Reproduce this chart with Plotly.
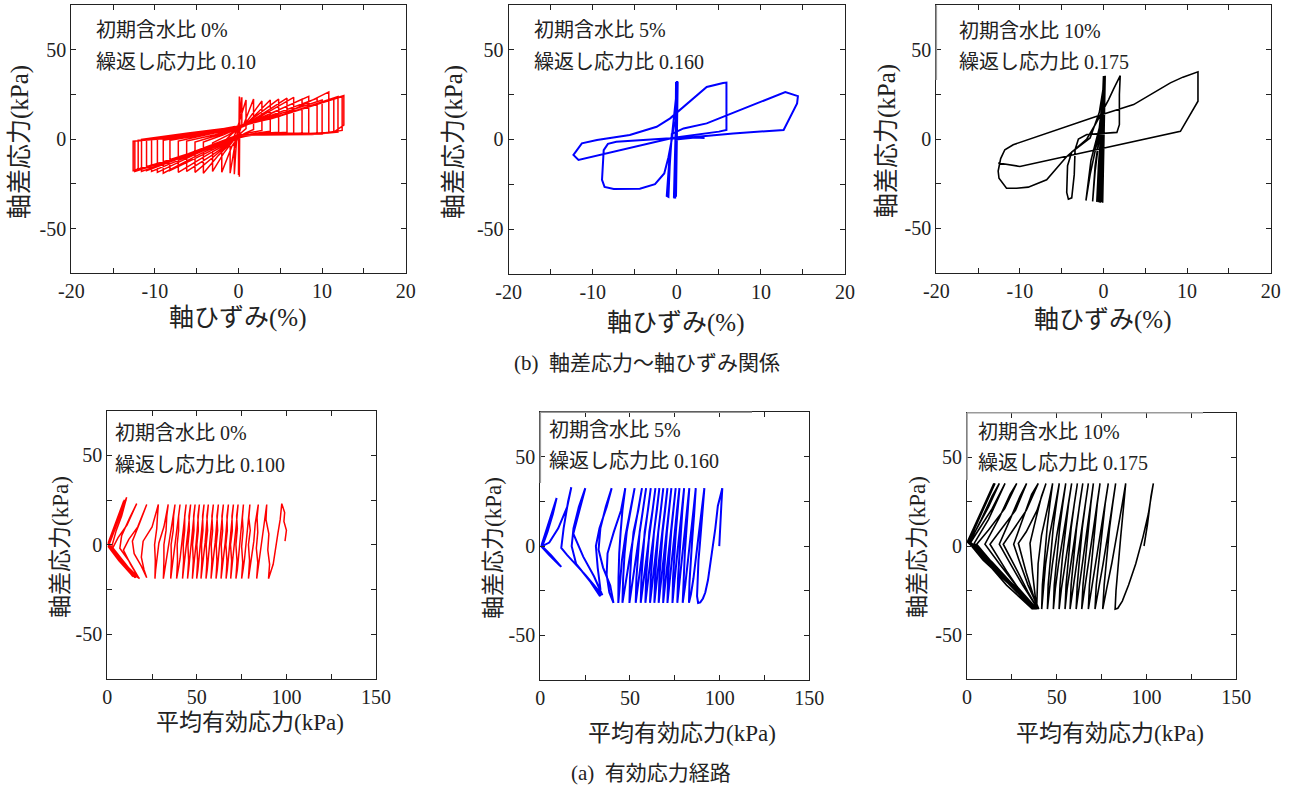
import plotly.graph_objects as go

W, H = 1294, 785

# ------------------------------------------------------------------
# (b) deviator stress vs axial strain : (axial strain %, deviator stress kPa)
# ------------------------------------------------------------------
ss_w0 = [
    (0.0, 0.0), (0.05, 23.0), (0.0, -20.0), (0.1, 24.0), (0.05, -19.5), (0.15, 23.5), (0.1, -21.0), (0.2, 22.5), (0.05, -19.0), (0.2, 23.0),
    (0.15, 10.0), (-0.2, 2.0), (-0.5, -19.5), (-0.5, -3.0), (0.0, 6.0), (0.4, 23.5),
    (0.4, 8.0), (0.1, 4.0), (-0.5, -5.0), (-1.0, -19.0), (-1.0, -3.0), (-0.3, 4.0), (0.9, 22.0),
    (0.9, 6.0), (0.3, 3.5), (-0.8, -4.0), (-2.0, -18.5), (-2.0, -2.5), (-0.8, 3.0), (0.6, 8.0), (1.8, 22.5),
    (1.8, 5.5), (0.8, 3.5), (-0.5, 0.0), (-1.8, -8.0), (-3.1, -18.0), (-3.1, -2.0), (-1.2, 2.5), (0.7, 8.0), (2.8, 21.5),
    (2.8, 5.0), (1.2, 3.5), (-0.5, 0.0), (-2.4, -9.0), (-4.2, -19.0), (-4.2, -1.5), (-1.8, 2.5), (0.8, 8.0), (3.8, 22.0),
    (3.8, 4.5), (1.6, 3.0), (-0.5, 0.0), (-2.8, -9.0), (-5.2, -18.5), (-5.2, -1.5), (-2.3, 2.5), (0.5, 7.5), (4.8, 22.5),
    (4.8, 4.0), (2.0, 3.0), (-0.3, 0.5), (-3.2, -9.0), (-6.2, -18.0), (-6.2, -1.0), (-2.8, 2.5), (0.5, 7.0), (5.8, 23.0),
    (5.8, 4.0), (2.5, 3.0), (0.0, 1.0), (-3.5, -8.0), (-7.2, -18.5), (-7.2, -1.0), (-3.2, 3.0), (0.5, 7.0), (6.6, 23.5),
    (6.6, 3.5), (3.0, 3.0), (0.0, 1.5), (-4.0, -8.0), (-8.2, -17.5), (-8.2, -0.5), (-3.7, 3.0), (0.5, 7.0), (7.6, 22.5),
    (7.6, 3.5), (3.5, 3.0), (0.0, 2.0), (-4.5, -8.0), (-9.0, -19.0), (-9.0, -0.5), (-4.0, 3.5), (0.5, 7.5), (8.4, 24.0),
    (8.4, 3.5), (4.0, 2.5), (0.0, 2.2), (-5.0, -8.0), (-9.7, -18.5), (-9.7, 0.0), (-4.5, 3.5), (0.5, 7.5), (9.4, 23.0),
    (9.4, 3.0), (4.5, 2.5), (0.0, 2.4), (-5.2, -8.0), (-10.4, -18.0), (-10.4, 0.0), (-5.0, 3.5), (0.5, 7.5), (10.0, 22.0),
    (10.0, 3.0), (5.0, 2.5), (0.0, 2.4), (-5.5, -8.0), (-11.0, -17.5), (-11.0, 0.0), (-5.5, 3.5), (0.0, 7.0), (5.0, 13.0), (10.8, 26.5),
    (10.8, 3.5), (5.5, 2.7), (0.0, 2.4), (-5.6, -7.9), (-11.6, -18.0), (-11.6, 0.0), (-6.0, 3.5), (0.0, 7.0), (5.5, 14.0), (11.4, 23.0),
    (11.4, 4.0), (6.0, 2.7), (0.0, 2.5), (-6.0, -8.0), (-12.0, -17.0), (-12.0, -0.5), (-7.6, 0.9), (-3.6, 4.3), (-0.4, 7.1), (4.0, 11.7), (11.9, 24.0),
    (11.9, 4.0), (8.8, 2.7), (0.0, 2.4), (-5.6, -7.9), (-12.4, -18.0), (-12.4, -1.0), (-7.6, 0.9), (-3.6, 4.3), (-0.4, 7.1), (4.0, 11.7), (12.4, 24.0),
    (12.4, 5.0), (8.8, 2.7), (0.0, 2.4), (-6.0, -8.5), (-12.6, -17.5), (-12.6, -1.0), (-7.6, 0.9), (-3.6, 4.3), (-0.4, 7.1), (4.0, 11.7), (12.6, 24.5),
    (12.6, 8.0), (11.4, 4.0), (8.8, 2.7), (3.0, 2.4),
]

ss_w5 = [
    (3.3, 0.7), (2.2, 1.0), (1.0, 0.5), (0.0, 0.0),
    (-0.1, 32.0), (-0.2, -32.5), (0.0, 32.5), (-0.3, -32.0), (0.05, 32.0), (-0.2, -33.0), (0.0, 31.5), (-0.35, -32.5),
    (0.1, 32.0), (-0.1, -32.0), (0.05, 32.5), (-0.3, -33.0), (0.1, 32.0),
    (-0.4, 10.0), (-0.9, -12.0), (-1.2, -31.5), (-1.0, -32.0), (-0.85, -15.0), (-0.6, 3.0), (0.8, 6.1), (3.55, 8.9),
    (9.5, 20.0), (12.9, 26.4), (14.4, 24.1), (14.3, 20.0), (12.7, 5.2), (6.7, 3.3), (0.8, 0.8), (-0.8, 0.5),
    (-11.7, -11.5), (-12.3, -8.7), (-11.3, -2.2), (-9.5, -0.4), (-5.6, 2.4), (-2.4, 7.0), (-0.8, 11.7), (3.55, 29.2),
    (5.5, 31.4), (5.9, 31.6), (5.9, 5.2), (5.0, 4.3), (-0.8, 0.6), (-7.2, -1.3), (-8.2, -2.5), (-8.7, -6.0),
    (-8.9, -22.6), (-8.6, -26.5), (-7.5, -27.6), (-4.4, -27.5), (-2.6, -25.0), (-1.5, -19.0), (-1.0, -10.0),
    (-0.6, 0.0), (-0.3, 10.0),
]

ss_w10 = [
    (0.0, 0.0),
    (0.1, 35.3), (-0.3, -35.5), (0.2, 35.3), (-0.2, -35.5), (0.0, 35.3), (-0.4, -35.3), (0.15, 35.3), (-0.1, -35.8),
    (0.2, 35.3), (-0.5, -35.5), (0.1, 35.3), (-0.3, -35.3), (0.2, 35.3), (-0.6, -35.5), (0.0, 35.3), (-0.2, -35.5),
    (0.15, 35.3), (-0.5, -35.3), (0.1, 35.3), (-0.4, -35.8), (0.2, 35.5),
    (-0.2, 10.0), (-0.6, -15.0), (-0.8, -35.3), (-0.6, -20.0), (-0.2, 5.0), (0.1, 35.3),
    (-0.3, 8.0), (-1.0, -15.0), (-1.3, -35.0), (-1.0, -18.0), (-0.4, 5.0), (0.1, 35.3),
    (-0.4, 8.0), (-1.5, -12.0), (-2.1, -34.5), (-1.6, -20.0), (-0.6, 2.0), (0.2, 35.3),
    (-0.5, 15.0), (-1.6, 0.6), (-3.8, -7.3), (-4.3, -15.0), (-4.4, -30.0), (-4.2, -33.8), (-3.8, -33.0),
    (-3.5, -20.0), (-3.4, -6.0), (-3.0, 0.0), (-2.0, 2.5), (1.6, 3.7), (1.9, 8.0), (1.9, 25.0), (2.0, 35.5),
    (1.2, 28.0), (0.6, 22.0), (-1.0, 8.0), (-2.0, 0.0), (-4.4, -9.8), (-6.8, -22.9), (-9.0, -27.0), (-10.4, -27.6),
    (-11.6, -27.6), (-12.5, -22.0), (-12.6, -18.0), (-12.3, -11.0), (-11.8, -6.0), (-10.8, -3.2), (-0.8, 12.7),
    (3.6, 19.3), (8.0, 31.5), (9.5, 34.7), (11.3, 37.7), (11.3, 21.2), (9.2, 4.3), (-10.0, -15.4), (-12.6, -13.5),
]

# ------------------------------------------------------------------
# (a) effective stress paths : (mean effective stress kPa, deviator stress kPa)
# ------------------------------------------------------------------
esp_w0 = [
    (99.2, 2), (100.0, 8), (98.6, 13), (99.0, 18), (97.4, 23),
    (96.5, 14), (95.2, 6), (94.0, -3), (92.6, -11), (90.0, -19),
    (90.6, -11), (89.6, -3), (90.2, 6), (88.6, 14), (89.0, 22.5),
    (87.6, 12), (86.4, 3), (85.2, -6), (84.4, -13), (83.4, -19),
    (84.0, -10), (83.2, -2), (84.0, 7), (83.6, 15), (84.3, 22.5),
    (82.6, 12), (81.8, 2), (80.6, -7), (79.6, -13), (78.8, -19),
    (79.4, -9), (78.8, 0), (79.8, 8), (79.0, 15), (79.6, 22.5),
    (78.6, 11), (77.6, 1), (76.6, -8), (75.8, -14), (75.0, -19),
    (75.6, -10), (75.0, -1), (75.8, 8), (75.4, 15), (76.0, 22.5),
    (75.0, 12), (74.0, 2), (73.4, -7), (72.6, -14), (71.8, -19),
    (72.4, -9), (71.8, 0), (72.6, 9), (72.2, 16), (73.0, 22.5),
    (72.0, 11), (71.0, 1), (70.2, -8), (69.6, -14), (68.9, -19),
    (69.4, -9), (68.8, 0), (69.8, 8), (69.6, 16), (70.4, 22.5),
    (69.4, 11), (68.6, 1), (67.6, -8), (67.0, -14), (66.3, -19),
    (66.8, -9), (66.2, 0), (67.0, 8), (66.8, 16), (67.6, 22.5),
    (66.6, 11), (65.8, 1), (64.8, -8), (64.2, -14), (63.5, -19),
    (64.0, -9), (63.6, 0), (64.4, 8), (64.0, 16), (64.8, 22.5),
    (63.8, 11), (63.0, 1), (62.0, -8), (61.4, -14), (60.7, -19),
    (61.2, -9), (60.8, 0), (61.6, 8), (61.2, 16), (62.0, 22.5),
    (61.0, 11), (60.2, 1), (59.2, -8), (58.6, -14), (57.9, -19),
    (58.4, -9), (58.0, 0), (58.8, 8), (58.4, 16), (59.2, 22.5),
    (58.2, 11), (57.4, 1), (56.4, -8), (55.8, -14), (55.1, -19),
    (55.6, -9), (55.2, 0), (56.0, 8), (55.6, 16), (56.4, 22.5),
    (55.4, 11), (54.6, 1), (53.6, -8), (53.0, -14), (52.3, -19),
    (52.8, -9), (52.6, 0), (53.4, 8), (53.2, 16), (54.0, 22.5),
    (53.0, 11), (52.2, 1), (51.2, -8), (50.6, -14), (49.9, -19),
    (50.4, -9), (50.0, 0), (50.8, 8), (50.6, 16), (51.4, 22.5),
    (50.4, 11), (49.6, 1), (48.6, -8), (48.2, -14), (47.5, -19),
    (48.0, -9), (47.6, 0), (48.4, 8), (48.2, 16), (49.0, 22.5),
    (48.0, 11), (47.0, 1), (46.0, -8), (45.4, -14), (44.8, -19),
    (45.4, -9), (45.0, 0), (45.8, 8), (45.6, 16), (46.5, 22.5),
    (45.4, 11), (44.4, 1), (43.4, -8), (42.6, -14), (42.0, -19),
    (42.6, -9), (42.4, 0), (43.2, 8), (43.2, 16), (44.0, 22.5),
    (42.8, 11), (41.6, 1), (40.6, -8), (39.6, -14), (38.7, -19),
    (39.2, -9), (39.0, 0), (39.8, 8), (39.8, 16), (40.6, 22.5),
    (39.2, 11), (37.8, 1), (36.8, -8), (36.0, -14), (35.4, -19),
    (35.8, -9), (35.6, 0), (36.8, 8), (37.0, 16), (37.8, 22.5),
    (36.0, 11), (34.4, 1), (33.0, -8), (32.0, -14), (31.3, -19),
    (31.6, -9), (31.6, 0), (32.8, 8), (33.2, 16), (34.0, 22.5),
    (31.6, 10), (28.8, 1), (27.6, -8), (27.0, -14), (26.6, -19),
    (26.8, -9), (26.4, 0), (27.6, 9), (28.0, 16), (28.5, 22.5),
    (25.0, 10), (20.0, 2), (19.0, -7), (20.5, -14), (22.0, -18.5),
    (19.0, -12), (15.0, -5), (14.0, 2), (18.0, 12), (22.0, 22.5),
    (17.0, 10), (12.0, 3), (9.0, -3), (13.0, -11), (17.5, -18.5),
    (12.0, -9), (7.0, -2), (8.0, 5), (12.5, 15), (16.4, 23),
    (11.0, 11), (6.0, 4), (3.0, -2), (9.0, -10), (16.0, -18),
    (8.0, -8), (2.5, -1), (5.0, 8), (8.0, 16), (10.8, 26.5),
    (6.0, 14), (2.0, 4), (0.5, 0), (7.0, -8), (15.5, -18.5),
    (7.0, -9), (1.0, 0), (4.0, 8), (7.5, 17), (10.0, 25),
    (5.0, 12), (1.0, 2), (0.5, -1), (6.5, -9), (14.5, -18),
    (6.0, -8), (0.8, 0), (4.5, 10), (8.5, 20), (10.5, 25),
    (4.0, 10), (0.5, 1), (5.0, -6), (12.0, -15), (16.0, -18.5),
    (6.0, -8), (0.5, 0), (5.0, 11), (9.0, 24),
    (4.0, 11), (0.5, 1), (6.0, -7), (11.0, -14), (18.0, -19),
    (9.0, -10), (1.0, 0), (5.5, 13), (9.5, 25),
    (4.5, 11), (0.5, 0.5), (7.0, -8), (14.0, -17.5),
]

esp_w5 = [
    (99.8, 0), (100.6, 12), (101.0, 24), (101.5, 32.5), (100.5, 28), (99.0, 22.5), (97.6, 10), (96.3, 0),
    (94.8, -10), (93.5, -19), (92.0, -26), (90.7, -29.3), (89.2, -31.5), (88.0, -31.8), (87.4, -28), (87.6, -20),
    (88.2, -8), (88.9, 0), (89.8, 13), (90.7, 26), (91.5, 32.5),
    (90.2, 22), (88.6, 8), (87.0, -6), (85.4, -18), (84.0, -27), (82.9, -31.8),
    (83.2, -20), (84.0, -6), (84.8, 5), (85.8, 18), (86.7, 32.5),
    (85.4, 20), (84.0, 6), (82.4, -8), (80.8, -22), (79.4, -31.8),
    (79.8, -18), (80.6, -4), (81.4, 8), (82.2, 20), (83.1, 32.5),
    (81.8, 20), (80.4, 6), (78.8, -8), (77.4, -22), (76.4, -31.8),
    (76.8, -18), (77.6, -4), (78.4, 8), (79.2, 20), (80.2, 32.5),
    (78.8, 20), (77.4, 6), (76.0, -8), (74.6, -22), (73.7, -31.8),
    (74.0, -18), (74.8, -4), (75.6, 8), (76.6, 20), (77.6, 32.5),
    (76.2, 20), (74.8, 6), (73.4, -8), (72.0, -22), (70.9, -31.8),
    (71.2, -18), (72.0, -4), (73.0, 8), (74.2, 20), (75.5, 32.5),
    (74.0, 20), (72.6, 6), (71.2, -8), (69.6, -22), (68.5, -31.8),
    (68.8, -18), (69.6, -4), (70.6, 8), (71.8, 20), (73.1, 32.5),
    (71.6, 20), (70.0, 6), (68.6, -8), (67.2, -22), (66.0, -31.8),
    (66.4, -18), (67.2, -4), (68.2, 8), (69.6, 20), (70.9, 32.5),
    (69.4, 20), (67.8, 6), (66.2, -8), (64.8, -22), (63.6, -31.8),
    (64.0, -18), (64.8, -4), (65.8, 8), (67.2, 20), (68.6, 32.5),
    (67.0, 20), (65.4, 6), (63.8, -8), (62.4, -22), (61.2, -31.8),
    (61.6, -18), (62.4, -4), (63.4, 8), (65.0, 20), (66.4, 32.5),
    (64.8, 20), (63.2, 6), (61.4, -8), (59.8, -22), (58.6, -31.8),
    (59.0, -18), (59.8, -4), (60.8, 8), (62.6, 20), (64.2, 32.5),
    (62.4, 20), (60.6, 6), (58.8, -8), (57.2, -22), (56.0, -31.8),
    (56.4, -18), (57.2, -4), (58.2, 8), (60.0, 20), (61.6, 32.5),
    (59.8, 20), (58.0, 6), (56.0, -8), (54.4, -22), (53.2, -31.8),
    (53.6, -18), (54.4, -4), (55.4, 8), (57.2, 20), (59.0, 32.5),
    (57.0, 20), (55.0, 6), (52.8, -8), (51.0, -22), (49.7, -31.8),
    (50.0, -18), (50.8, -4), (52.0, 8), (54.6, 20), (56.7, 32.5),
    (54.4, 20), (52.0, 6), (49.6, -8), (47.4, -22), (45.8, -31.8),
    (46.2, -18), (47.0, -4), (48.2, 8), (50.4, 20), (52.6, 32.5),
    (50.0, 20), (47.5, 6), (45.5, -8), (44.5, -22), (43.5, -31.8),
    (43.6, -18), (44.0, -4), (44.8, 8), (45.8, 20), (47.4, 32.5),
    (45.0, 20), (41.0, 8), (37.5, -4), (37.0, -16), (38.5, -26), (40.8, -31.8),
    (39.0, -22), (35.0, -12), (32.5, -2), (33.5, 10), (36.5, 22), (39.8, 32.5),
    (37.0, 22), (33.0, 10), (31.0, 0), (32.0, -12), (33.5, -24), (33.3, -28),
    (28.0, -20), (20.0, -10), (17.5, 0), (18.5, 10), (21.5, 22), (25.1, 32.5),
    (22.0, 20), (18.4, 7), (24.0, -6), (30.0, -17), (34.6, -27.5),
    (25.0, -16), (15.0, -5), (11.7, -1), (13.0, 10), (15.5, 25), (17.3, 33),
    (15.0, 22), (10.0, 10), (5.0, 2), (1.0, 0), (6.0, -5), (11.7, -11.6),
    (6.0, -6), (1.0, -0.5), (4.0, 8), (7.0, 18), (9.1, 27),
    (5.0, 14), (1.5, 3), (0.5, 0), (5.0, -5), (11.0, -11),
]

esp_w10 = [
    (98.6, 0), (100.5, 12), (102.5, 28), (103.8, 35.2), (102.8, 28), (101.0, 18), (98.0, 5), (94.0, -10),
    (90.0, -22), (86.5, -31), (84.0, -35), (82.5, -35.5),
    (83.0, -25), (84.2, -10), (85.6, 5), (87.2, 22), (88.4, 35.2),
    (86.2, 22), (83.6, 6), (80.6, -10), (77.8, -24), (75.6, -35.5),
    (76.4, -22), (77.8, -6), (79.4, 10), (81.2, 24), (82.8, 35.2),
    (80.8, 22), (78.4, 6), (75.8, -10), (73.2, -24), (71.3, -35.5),
    (72.0, -22), (73.6, -6), (75.2, 10), (77.0, 24), (78.7, 35.2),
    (76.6, 22), (74.0, 6), (71.4, -10), (69.2, -24), (67.6, -35.5),
    (68.2, -22), (69.6, -6), (71.0, 10), (72.6, 24), (74.1, 35.2),
    (72.2, 22), (69.8, 6), (67.4, -10), (65.4, -24), (63.9, -35.5),
    (64.6, -22), (66.0, -6), (67.4, 10), (69.0, 24), (70.4, 35.2),
    (68.6, 22), (66.4, 6), (64.2, -10), (62.2, -24), (60.8, -35.5),
    (61.4, -22), (62.8, -6), (64.2, 10), (66.0, 24), (67.6, 35.2),
    (65.6, 22), (63.2, 6), (60.8, -10), (58.8, -24), (57.4, -35.5),
    (58.0, -22), (59.4, -6), (61.0, 10), (62.8, 24), (64.5, 35.2),
    (62.6, 22), (60.2, 6), (57.8, -10), (55.8, -24), (54.6, -35.5),
    (55.2, -22), (56.6, -6), (58.0, 10), (59.8, 24), (61.5, 35.2),
    (59.4, 22), (56.8, 6), (54.4, -10), (52.6, -24), (51.3, -35.5),
    (51.8, -22), (53.2, -6), (54.8, 10), (56.6, 24), (58.3, 35.2),
    (56.2, 22), (53.6, 6), (51.0, -10), (49.2, -24), (48.1, -35.5),
    (48.6, -22), (50.0, -6), (51.6, 10), (53.4, 24), (55.0, 35.2),
    (52.8, 22), (50.0, 6), (47.6, -10), (46.0, -24), (44.8, -35.5),
    (45.2, -22), (46.6, -6), (48.0, 10), (49.8, 24), (51.4, 35.2),
    (49.0, 22), (46.0, 6), (43.8, -10), (42.6, -24), (41.6, -35.5),
    (42.0, -22), (43.2, -6), (44.6, 10), (46.2, 24), (47.7, 35.2),
    (45.0, 22), (41.5, 6), (39.6, -10), (39.2, -24), (38.8, -35.5),
    (36.5, -15), (35.1, 1.5), (38.5, 16), (41.5, 28), (44.0, 35.2),
    (39.0, 20), (33.0, 8), (28.6, 1.5), (33.0, -15), (37.0, -28), (40.0, -35.5),
    (34.0, -22), (29.0, -8), (26.0, 1.0), (31.0, 15), (36.0, 29), (39.7, 35.2),
    (33.0, 20), (25.0, 8), (20.2, 1.0), (28.0, -14), (34.0, -26), (39.5, -35.5),
    (31.0, -22), (23.0, -8), (18.0, 1.0), (24.0, 15), (29.5, 28), (33.2, 35.2),
    (27.0, 20), (18.0, 8), (12.8, 1.0), (22.0, -14), (30.0, -26), (39.0, -35.5),
    (28.0, -23), (18.0, -10), (10.0, 1.0), (18.0, 16), (24.0, 29), (27.7, 35.2),
    (21.0, 21), (12.0, 9), (5.4, 1.0), (17.0, -13), (28.0, -25), (38.5, -35.5),
    (26.0, -22), (13.0, -9), (4.0, 1.5), (12.0, 15), (18.0, 28), (21.2, 35.2),
    (14.0, 21), (6.0, 8), (2.0, 2.0), (14.0, -9), (26.0, -22), (38.0, -35.5),
    (25.0, -21), (11.0, -8), (1.5, 2.0), (8.0, 15), (14.0, 28), (18.0, 35.2),
    (12.0, 22), (5.0, 9), (1.0, 2.0), (13.0, -9), (25.0, -22), (37.5, -35.5),
    (24.0, -21), (10.0, -8), (0.8, 2.0), (7.0, 16), (12.5, 28), (15.6, 35.2),
    (10.0, 22), (4.0, 9), (0.5, 2.0), (12.0, -9), (24.0, -22), (37.0, -35.5),
    (23.0, -21), (9.0, -8), (0.5, 2.5), (6.0, 15), (11.5, 28), (15.0, 35.2),
    (8.0, 20), (2.0, 6), (0.3, 2.5), (10.0, -8), (22.0, -22), (36.5, -35.5),
]

# ticks / labels
strain_ticks = [-20, -10, 0, 10, 20]
strain_tick_text = ["-20", "-10", "0", "10", "20"]
strain_minor = [-15, -5, 5, 15]
p_ticks = [0, 50, 100, 150]
p_tick_text = ["0", "50", "100", "150"]
p_minor = [25, 75, 125]
q_ticks = [-50, 0, 50]
q_tick_text = ["-50", "0", "50"]
q_minor = [-25, 25]
water_labels = ["初期含水比 0%", "初期含水比 5%", "初期含水比 10%"]
ratio_labels_b = ["繰返し応力比 0.10", "繰返し応力比 0.160", "繰返し応力比 0.175"]
ratio_labels_a = ["繰返し応力比 0.100", "繰返し応力比 0.160", "繰返し応力比 0.175"]
series_colors = ["#ff0000", "#0000ff", "#000000"]

# ------------------------------------------------------------------
FONT = "Liberation Serif, Noto Sans CJK JP, serif"
TXT = "#222222"


def fx(px):
    return px / W


def fy(py):
    return 1 - py / H


# pixel boxes of the six plot areas (left, top, right, bottom)
boxes = [
    (71.3, 5.3, 405.7, 273.3),
    (508.7, 4.7, 845.0, 274.0),
    (936.3, 5.3, 1270.7, 272.7),
    (107.3, 410.7, 376.0, 678.7),
    (540.3, 412.3, 809.3, 680.0),
    (967.0, 412.7, 1236.3, 679.3),
]

datasets = [ss_w0, ss_w5, ss_w10, esp_w0, esp_w5, esp_w10]
widths = [1.5, 2.0, 1.6, 1.5, 2.0, 1.6]

fig = go.Figure()
for i, (data, box) in enumerate(zip(datasets, boxes)):
    n = "" if i == 0 else str(i + 1)
    col = series_colors[i % 3]
    fig.add_trace(go.Scatter(
        x=[p[0] for p in data], y=[p[1] for p in data], mode="lines",
        line=dict(color=col, width=widths[i]), showlegend=False,
        xaxis="x" + n, yaxis="y" + n, hoverinfo="skip"))
    top_row = i < 3
    l, t, r, b = box
    common = dict(showline=True, linecolor=TXT, linewidth=1.2, mirror="ticks",
                  ticks="inside", ticklen=5, tickwidth=1, tickcolor=TXT,
                  showgrid=False, zeroline=False, automargin=False,
                  tickfont=dict(family=FONT, size=20, color=TXT))
    xa = dict(common, domain=[fx(l), fx(r)], anchor="y" + n,
              range=[-20, 20] if top_row else [0, 150],
              tickmode="array",
              tickvals=strain_ticks if top_row else p_ticks,
              ticktext=strain_tick_text if top_row else p_tick_text,
              minor=dict(tickvals=strain_minor if top_row else p_minor, ticks="inside",
                         ticklen=5, tickcolor=TXT, showgrid=False))
    ya = dict(common, domain=[fy(b), fy(t)], anchor="x" + n, range=[-75, 75],
              tickmode="array", tickvals=q_ticks, ticktext=q_tick_text,
              minor=dict(tickvals=q_minor, ticks="inside", ticklen=5, tickcolor=TXT, showgrid=False))
    fig.update_layout(**{"xaxis" + n: xa, "yaxis" + n: ya})

ann = []


def text(x, y, s, size, **kw):
    d = dict(x=fx(x), y=fy(y), xref="paper", yref="paper", text=s, showarrow=False,
             font=dict(family=FONT, size=size, color=TXT), xanchor="center", yanchor="middle")
    d.update(kw)
    ann.append(d)


# in-plot labels
lab_pos_b = [(94, 30, 62), (532, 30, 62), (957, 31, 62)]
lab_pos_a = [(113, 433, 465), (547, 430, 461), (976, 432, 463)]
for k in range(3):
    x0, y1, y2 = lab_pos_b[k]
    text(x0, y1, water_labels[k], 20, xanchor="left")
    text(x0, y2, ratio_labels_b[k], 20, xanchor="left")
    x0, y1, y2 = lab_pos_a[k]
    text(x0, y1, water_labels[k], 20, xanchor="left")
    text(x0, y2, ratio_labels_a[k], 20, xanchor="left")

# axis titles
for cx, cy in [(237, 318), (675, 323), (1102, 320)]:
    text(cx, cy, "軸ひずみ(%)", 25)
for cx, cy in [(20, 142), (454, 142), (887, 141)]:
    text(cx, cy, "軸差応力(kPa)", 25, textangle=-90)
for cx, cy in [(250, 722), (682, 733), (1110, 733)]:
    text(cx, cy, "平均有効応力(kPa)", 23)
for cx, cy in [(60, 547), (493, 548), (917, 547)]:
    text(cx, cy, "軸差応力(kPa)", 23, textangle=-90)

# captions
text(647, 363, "(b)  軸差応力～軸ひずみ関係", 21)
text(651, 773, "(a)  有効応力経路", 21)

# grey borders of pasted label boxes
GREY = "#9a9a9a"
shapes = [
    dict(type="line", xref="paper", yref="paper", x0=fx(936.3), x1=fx(936.3), y0=fy(5.3), y1=fy(80),
         line=dict(color=GREY, width=1.6)),
    dict(type="line", xref="paper", yref="paper", x0=fx(540.3), x1=fx(540.3), y0=fy(412.3), y1=fy(483),
         line=dict(color=GREY, width=1.6)),
    dict(type="line", xref="paper", yref="paper", x0=fx(540.3), x1=fx(752), y0=fy(412.3), y1=fy(412.3),
         line=dict(color=GREY, width=1.6)),
    dict(type="line", xref="paper", yref="paper", x0=fx(967.0), x1=fx(967.0), y0=fy(412.7), y1=fy(480),
         line=dict(color=GREY, width=1.6)),
    dict(type="line", xref="paper", yref="paper", x0=fx(967.0), x1=fx(1203), y0=fy(412.7), y1=fy(412.7),
         line=dict(color=GREY, width=1.6)),
]

fig.update_layout(width=W, height=H, margin=dict(l=0, r=0, t=0, b=0, autoexpand=False),
                  paper_bgcolor="white", plot_bgcolor="white",
                  font=dict(family=FONT, color=TXT), annotations=ann, shapes=shapes)

fig.write_html("out.html", config={"displayModeBar": False},
               post_script="document.body.style.margin='0';document.body.style.overflow='hidden';")
